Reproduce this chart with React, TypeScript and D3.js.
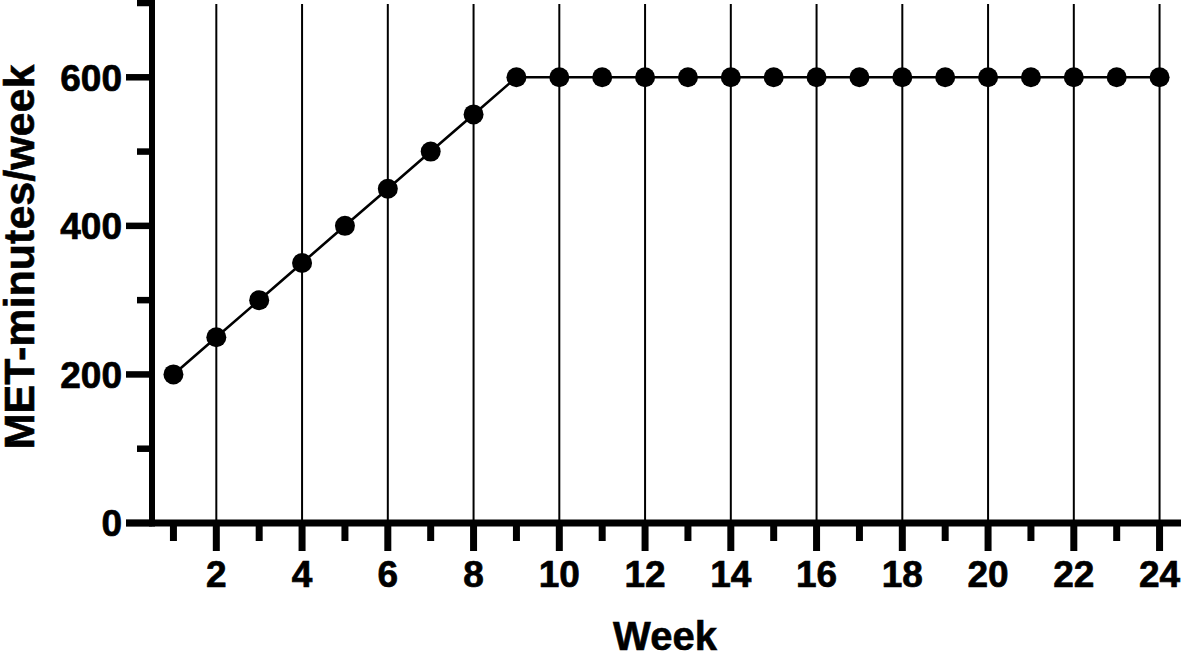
import React from 'react'
import * as d3 from 'd3'

const weeks = [1, 2, 3, 4, 5, 6, 7, 8, 9, 10, 11, 12, 13, 14, 15, 16, 17, 18, 19, 20, 21, 22, 23, 24]
const metMinutes = [200, 250, 300, 350, 400, 450, 500, 550, 600, 600, 600, 600, 600, 600, 600, 600, 600, 600, 600, 600, 600, 600, 600, 600]
const yMajorTicks = [0, 200, 400, 600]
const yMinorTicks = [100, 300, 500, 700]
const xMajorTicks = [2, 4, 6, 8, 10, 12, 14, 16, 18, 20, 22, 24]
const xMinorTicks = [1, 3, 5, 7, 9, 11, 13, 15, 17, 19, 21, 23]

const W = 1181
const H = 659
const font = '"Liberation Sans", Arial, Helvetica, sans-serif'

export default function App() {
  const x = d3.scaleLinear().domain([0.5, 24.5]).range([152, 1181])
  const y = d3.scaleLinear().domain([0, 700]).range([523, 3])

  const line = d3
    .line<number>()
    .x((_, i) => x(weeks[i]))
    .y((d) => y(d))

  const axisY = y(0)
  const axisX = x(0.5)

  return (
    <svg width={W} height={H} style={{ position: 'absolute', left: 0, top: 0, background: '#fff' }}>
      {/* vertical grid lines at labelled weeks */}
      {xMajorTicks.map((w) => (
        <line key={'g' + w} x1={x(w)} x2={x(w)} y1={4} y2={axisY} stroke="#000" strokeWidth={2} />
      ))}

      <path d={line(metMinutes) || ''} fill="none" stroke="#000" strokeWidth={2.6} />
      {metMinutes.map((v, i) => (
        <circle key={'p' + i} cx={x(weeks[i])} cy={y(v)} r={10} fill="#000" />
      ))}

      {/* y axis */}
      <line x1={axisX} x2={axisX} y1={0} y2={axisY + 3.5} stroke="#000" strokeWidth={6} />
      {yMajorTicks.map((t) => (
        <g key={'ym' + t}>
          <line x1={126} x2={axisX} y1={y(t)} y2={y(t)} stroke="#000" strokeWidth={6.5} />
          <text
            x={122}
            y={y(t)}
            dy="0.36em"
            textAnchor="end"
            fontFamily={font}
            fontWeight="bold"
            fontSize={37}
            stroke="#000"
            strokeWidth={0.7}
          >
            {t}
          </text>
        </g>
      ))}
      {yMinorTicks.map((t) => (
        <line key={'yn' + t} x1={137} x2={axisX} y1={y(t)} y2={y(t)} stroke="#000" strokeWidth={6.5} />
      ))}

      {/* x axis */}
      <line x1={126} x2={W} y1={axisY} y2={axisY} stroke="#000" strokeWidth={7} />
      {xMajorTicks.map((t) => (
        <g key={'xm' + t}>
          <line x1={x(t)} x2={x(t)} y1={axisY} y2={551} stroke="#000" strokeWidth={7} />
          <text
            x={x(t)}
            y={587}
            textAnchor="middle"
            fontFamily={font}
            fontWeight="bold"
            fontSize={37}
            stroke="#000"
            strokeWidth={0.7}
          >
            {t}
          </text>
        </g>
      ))}
      {xMinorTicks.map((t) => (
        <line key={'xn' + t} x1={x(t)} x2={x(t)} y1={axisY} y2={541} stroke="#000" strokeWidth={7} />
      ))}

      <text
        x={665}
        y={650}
        textAnchor="middle"
        fontFamily={font}
        fontWeight="bold"
        fontSize={40}
        stroke="#000"
        strokeWidth={0.6}
      >
        Week
      </text>
      <text
        transform="translate(34,257) rotate(-90)"
        textAnchor="middle"
        fontFamily={font}
        fontWeight="bold"
        fontSize={43}
        stroke="#000"
        strokeWidth={0.6}
      >
        MET-minutes/week
      </text>
    </svg>
  )
}
